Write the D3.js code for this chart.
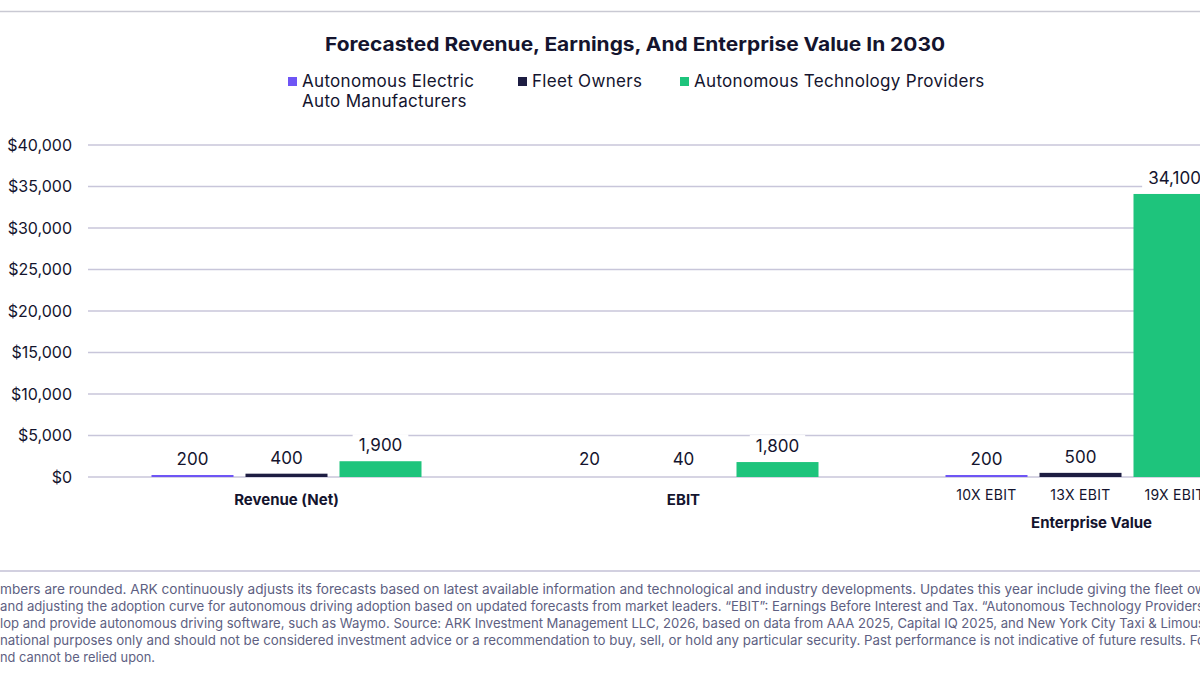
<!DOCTYPE html>
<html>
<head>
<meta charset="utf-8">
<script src="https://cdn.jsdelivr.net/npm/d3@7"></script>
<style>
  html, body { margin: 0; padding: 0; background: #fff; overflow: hidden; }
  svg { display: block; font-family: Inter, "Noto Sans", sans-serif; }
</style>
</head>
<body>
<div id="chart"></div>
<script>
// 데이터 — 2030 예측치 (단위: $bn)
const categories = ["Revenue (Net)", "EBIT", "Enterprise Value"];
const series = ["Autonomous Electric Auto Manufacturers", "Fleet Owners", "Autonomous Technology Providers"];
const seriesLines = [["Autonomous Electric", "Auto Manufacturers"], ["Fleet Owners"], ["Autonomous Technology Providers"]];
const seriesColors = ["#6e55f5", "#1d1d42", "#1ec47c"];
const revenueValues = [200, 400, 1900];
const ebitValues = [20, 40, 1800];
const evValues = [200, 500, 34100];
const evMultiples = ["10X EBIT", "13X EBIT", "19X EBIT"];
const yTicks = [0, 5000, 10000, 15000, 20000, 25000, 30000, 35000, 40000];
const title = "Forecasted Revenue, Earnings, And Enterprise Value In 2030";
const footnotes = [
  "mbers are rounded. ARK continuously adjusts its forecasts based on latest available information and technological and industry developments. Updates this year include giving the fleet ow",
  "and adjusting the adoption curve for autonomous driving adoption based on updated forecasts from market leaders. \u201cEBIT\u201d: Earnings Before Interest and Tax. \u201cAutonomous Technology Providers",
  "lop and provide autonomous driving software, such as Waymo. Source: ARK Investment Management LLC, 2026, based on data from AAA 2025, Capital IQ 2025, and New York City Taxi & Limous",
  "national purposes only and should not be considered investment advice or a recommendation to buy, sell, or hold any particular security. Past performance is not indicative of future results. Fo",
  "nd cannot be relied upon."
];
const footnoteWidths = [1206, 1204, 1205, 1205, 155];

const W = 1200, H = 675;
const INK = "#14142e", GRID = "#c8c6da";

const rows = categories.map((c, i) => ({
  category: c,
  values: [revenueValues, ebitValues, evValues][i]
}));

const svg = d3.select("#chart").append("svg")
  .attr("width", W).attr("height", H)
  .attr("viewBox", `0 0 ${W} ${H}`);

// 상단 구분선
svg.append("line").attr("x1", 0).attr("x2", W).attr("y1", 11.5).attr("y2", 11.5)
  .attr("stroke", "#c9c9d3").attr("stroke-width", 1.5);

// 제목
svg.append("text").attr("x", 635).attr("y", 51).attr("text-anchor", "middle")
  .attr("font-size", 19).attr("font-weight", 700).attr("fill", INK)
  .attr("textLength", 620).attr("lengthAdjust", "spacingAndGlyphs")
  .text(title);

// 범례
const legendX = [288, 518, 680];
const legend = svg.append("g").attr("class", "legend");
seriesLines.forEach((lines, i) => {
  const g = legend.append("g").attr("transform", `translate(${legendX[i]},0)`);
  g.append("rect").attr("x", 0).attr("y", 77).attr("width", 9).attr("height", 9).attr("fill", seriesColors[i]);
  lines.forEach((t, j) => {
    g.append("text").attr("x", 14).attr("y", 87 + j * 20)
      .attr("font-size", 17).attr("fill", INK).attr("letter-spacing", 0.3).text(t);
  });
});

// 스케일
const y = d3.scaleLinear().domain([0, 40000]).range([477, 145]);
const x0 = d3.scaleBand().domain(categories).range([88, 1279]).paddingInner(0).paddingOuter(0);
const x1 = d3.scaleBand().domain(series).range([-135, 135]).paddingInner(12 / 94).paddingOuter(0);
const groupCenter = c => x0(c) + x0.bandwidth() / 2;
// 아주 작은 값(100 이상)은 최소 2px 선으로 보이게
const barTop = v => v >= 100 ? Math.min(y(v), y(0) - 2) : y(v);

// 그리드 + y축 라벨
const grid = svg.append("g").attr("class", "grid");
grid.selectAll("line").data(yTicks).join("line")
  .attr("x1", 88).attr("x2", W + 10)
  .attr("y1", d => y(d)).attr("y2", d => y(d))
  .attr("stroke", GRID).attr("stroke-width", 1.5);

const yAxis = d3.axisLeft(y).tickValues(yTicks).tickSize(0).tickPadding(0)
  .tickFormat(d => "$" + d3.format(",")(d));
svg.append("g").attr("transform", "translate(72,0)").call(yAxis)
  .call(g => g.select(".domain").remove())
  .call(g => g.selectAll("text").attr("font-size", 16).attr("fill", INK)
    .attr("font-family", "Inter, sans-serif").attr("dy", "0.34em"));

// 막대
const groups = svg.append("g").attr("class", "bars").selectAll("g").data(rows).join("g")
  .attr("transform", d => `translate(${groupCenter(d.category)},0)`);

groups.selectAll("rect").data(d => d.values.map((v, i) => ({ s: series[i], v, i }))).join("rect")
  .attr("x", d => x1(d.s)).attr("width", x1.bandwidth())
  .attr("y", d => barTop(d.v)).attr("height", d => d.v >= 100 ? y(0) - barTop(d.v) : 0)
  .attr("fill", d => seriesColors[d.i]);

// 값 라벨 (흰 배경으로 그리드를 가림)
const labels = groups.selectAll("g.vlabel").data(d => d.values.map((v, i) => ({ s: series[i], v, i }))).join("g")
  .attr("class", "vlabel")
  .attr("transform", d => `translate(${x1(d.s) + x1.bandwidth() / 2},${Math.min(y(d.v), y(0) - 2) - 10})`);
labels.append("text").attr("text-anchor", "middle").attr("font-size", 17).attr("fill", INK)
  .text(d => d3.format(",")(d.v));
labels.each(function () {
  const t = d3.select(this).select("text");
  const w = t.node().getComputedTextLength();
  d3.select(this).insert("rect", "text")
    .attr("x", -w / 2 - 6).attr("y", -17).attr("width", w + 12).attr("height", 22).attr("fill", "#fff");
});

// x축 라벨
const xl = svg.append("g").attr("class", "x-labels");
xl.selectAll("text.cat").data(categories.slice(0, 2)).join("text")
  .attr("class", "cat").attr("x", d => groupCenter(d)).attr("y", 505)
  .attr("text-anchor", "middle").attr("font-size", 15).attr("font-weight", 700).attr("fill", INK)
  .text(d => d);
xl.selectAll("text.sub").data(evMultiples).join("text")
  .attr("class", "sub").attr("x", (d, i) => groupCenter(categories[2]) + x1(series[i]) + x1.bandwidth() / 2)
  .attr("y", 500).attr("text-anchor", "middle").attr("font-size", 14).attr("fill", INK)
  .attr("letter-spacing", 0.3).text(d => d);
xl.append("text").attr("x", groupCenter(categories[2]) + 11).attr("y", 528)
  .attr("text-anchor", "middle").attr("font-size", 15).attr("font-weight", 700).attr("fill", INK)
  .text(categories[2]);

// 각주
svg.append("line").attr("x1", 0).attr("x2", W).attr("y1", 571).attr("y2", 571)
  .attr("stroke", "#c3c1d6").attr("stroke-width", 1.5);
svg.append("g").attr("class", "footnote").selectAll("text").data(footnotes).join("text")
  .attr("x", 0).attr("y", (d, i) => 593.5 + i * 17)
  .attr("font-size", 13.5).attr("fill", "#5e5f82")
  .attr("textLength", (d, i) => footnoteWidths[i]).attr("lengthAdjust", "spacingAndGlyphs")
  .text(d => d);
</script>
</body>
</html>
